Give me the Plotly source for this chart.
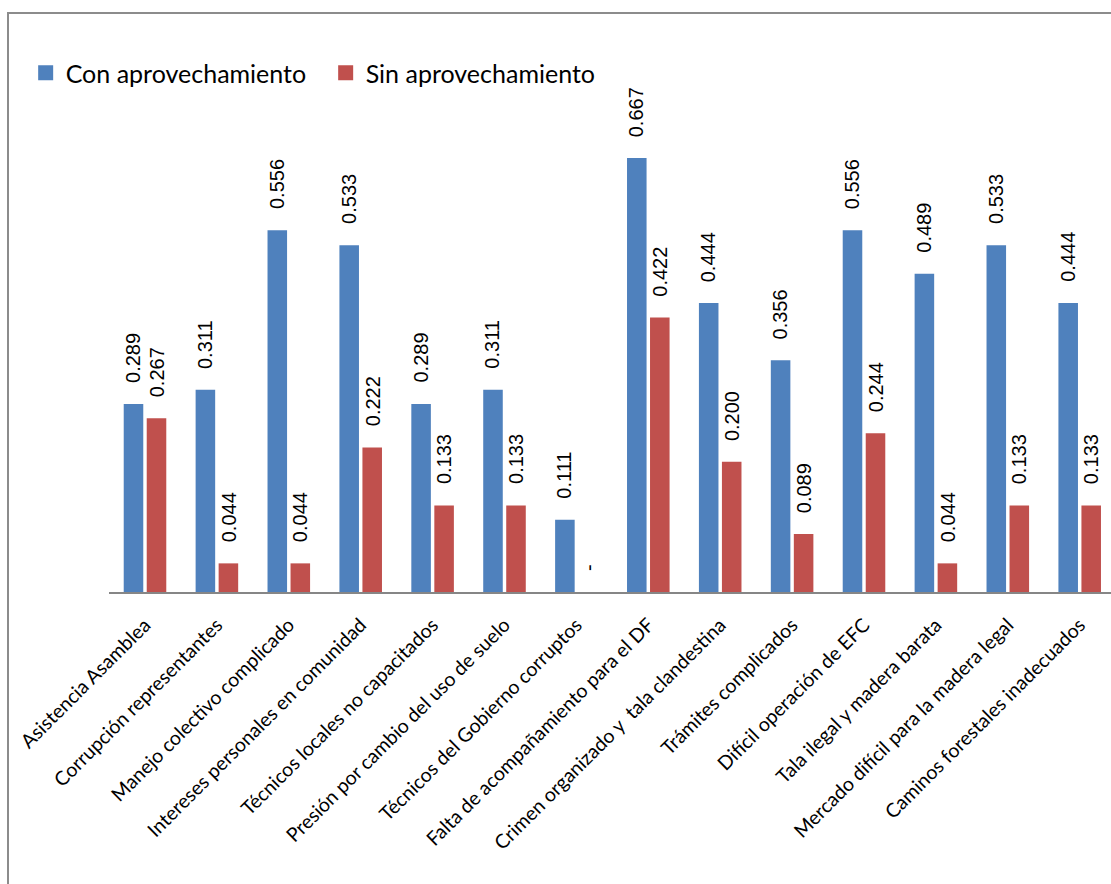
import plotly.graph_objects as go

categories = [
    "Asistencia Asamblea",
    "Corrupción representantes",
    "Manejo colectivo complicado",
    "Intereses personales en comunidad",
    "Técnicos locales no capacitados",
    "Presión por cambio del uso de suelo",
    "Técnicos del Gobierno corruptos",
    "Falta de acompañamiento para el DF",
    "Crimen organizado y  tala clandestina",
    "Trámites complicados",
    "Difícil operación de EFC",
    "Tala ilegal y madera barata",
    "Mercado difícil para la madera legal",
    "Caminos forestales inadecuados",
]
con_aprov = [0.289, 0.311, 0.556, 0.533, 0.289, 0.311, 0.111, 0.667, 0.444, 0.356, 0.556, 0.489, 0.533, 0.444]
sin_aprov = [0.267, 0.044, 0.044, 0.222, 0.133, 0.133, 0.0, 0.422, 0.200, 0.089, 0.244, 0.044, 0.133, 0.133]
series_names = ["Con aprovechamiento", "Sin aprovechamiento"]

BLUE = "#4F81BD"
RED = "#C0504D"
CAT_FONT = "Lato"
LBL_FONT = "Liberation Sans"

W, H = 1111, 884
L, R, T, B = 109, 0, 100, 292
px_per_unit = 650.7
plot_h = H - T - B
ymax = plot_h / px_per_unit

fig = go.Figure()
fig.add_trace(go.Bar(x=categories, y=con_aprov, name=series_names[0], showlegend=False,
                     marker=dict(color=BLUE, line=dict(width=0))))
fig.add_trace(go.Bar(x=categories, y=sin_aprov, name=series_names[1], showlegend=False,
                     marker=dict(color=RED, line=dict(width=0))))
# legend entries with larger square keys
for nm, col in zip(series_names, (BLUE, RED)):
    fig.add_trace(go.Scatter(x=[None], y=[None], mode="markers", name=nm,
                             marker=dict(symbol="square", size=15, color=col),
                             hoverinfo="skip"))

def fmt(v):
    return "-" if v == 0 else f"{v:.3f}"

annotations = []
for vals, xs in ((con_aprov, -12), (sin_aprov, 12)):
    for c, v in zip(categories, vals):
        annotations.append(dict(
            x=c, y=v, xref="x", yref="y", text=fmt(v), showarrow=False,
            textangle=-90, xanchor="center", yanchor="bottom",
            xshift=xs, yshift=19,
            font=dict(family=LBL_FONT, size=20, color="#000000"),
        ))

plot_w = W - L - R
x_left = -36 / 71.9
x_right = x_left + plot_w / 71.9

fig.update_layout(
    width=W, height=H,
    margin=dict(l=L, r=R, t=T, b=B, autoexpand=False),
    paper_bgcolor="white", plot_bgcolor="white",
    barmode="group", bargap=0.36, bargroupgap=0.15,
    showlegend=True,
    legend=dict(orientation="h", xref="container", yref="container",
                x=(0.015 * W + 9) / W, y=(H - 73) / H, xanchor="left", yanchor="middle",
                entrywidth=255, entrywidthmode="pixels",
                font=dict(family=CAT_FONT, size=25, color="#000000"),
                bgcolor="rgba(0,0,0,0)", traceorder="normal"),
    xaxis=dict(range=[x_left, x_right], showline=True, linecolor="#868686", linewidth=2,
               showgrid=False, zeroline=False, ticks="", tickangle=-45,
               ticklabelstandoff=12,
               tickfont=dict(family=CAT_FONT, size=19.5, color="#000000"),
               automargin=False),
    yaxis=dict(range=[0, ymax], visible=False, showgrid=False, zeroline=False),
    annotations=annotations,
    shapes=[dict(type="rect", xref="paper", yref="paper",
                 x0=(8 - L) / plot_w, x1=1.05,
                 y0=-0.8, y1=(H - B - 13) / plot_h,
                 line=dict(color="#8C8C8C", width=2), fillcolor="rgba(0,0,0,0)",
                 layer="below")],
)

fig.write_html("out.html", config={"displayModeBar": False},
               post_script="document.body.style.margin='0px';document.body.style.overflow='hidden';")
